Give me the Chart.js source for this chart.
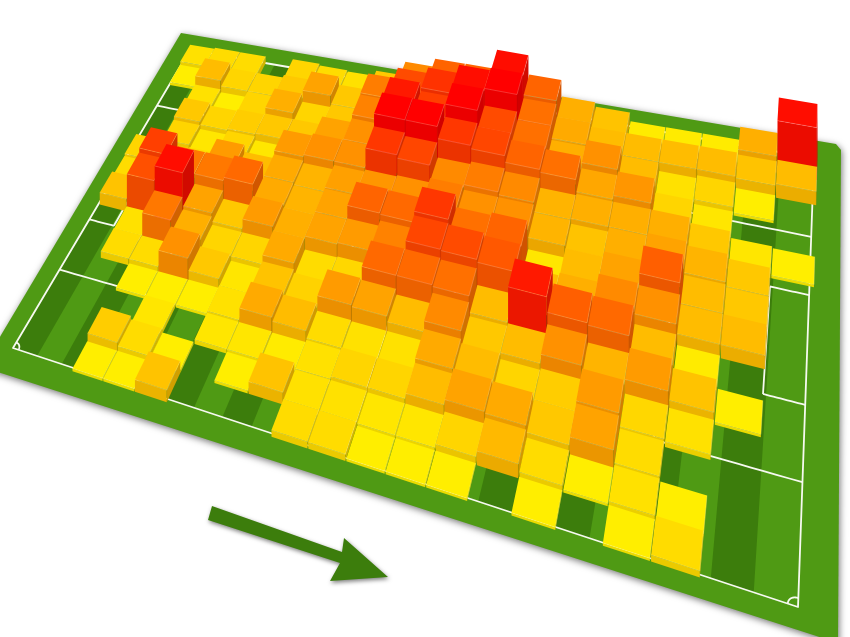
<!DOCTYPE html><html><head><meta charset="utf-8"><style>html,body{margin:0;background:#fff}canvas{display:block}</style><script src="https://cdn.jsdelivr.net/npm/chart.js@4"></script></head><body><canvas id="c" width="850" height="637"></canvas><script>
// each column lists one value per row, nearest touchline first (0 = no block)
const col00=[0,0,0,0,0,0,22,12,15,0,0,0,5,10];
const col01=[0,0,0,0,12,10,68,75,10,15,20,10,25,12];
const col02=[5,18,0,5,12,52,95,52,12,8,15,5,15,12];
const col03=[5,12,8,5,42,30,35,52,38,15,18,15,15,0];
const col04=[22,5,0,5,20,15,20,58,25,8,20,30,20,15];
const col05=[0,0,8,10,8,15,38,32,32,38,20,15,35,12];
const col06=[0,5,8,32,22,32,30,28,28,42,35,20,20,10];
const col07=[0,22,6,25,16,12,35,35,36,42,42,48,50,20];
const col08=[12,10,10,12,38,14,38,60,40,78,100,90,70,45];
const col09=[12,10,15,10,35,58,48,58,42,72,100,75,80,60];
const col10=[5,8,15,10,25,58,72,78,50,45,78,100,95,60];
const col11=[5,8,25,32,45,55,70,55,42,50,72,70,100,95];
const col12=[5,15,35,25,20,25,65,60,42,45,60,55,55,60];
const col13=[0,26,32,15,25,90,25,8,28,28,55,30,32,30];
const col14=[5,12,20,18,42,62,30,25,22,30,33,42,25,22];
const col15=[0,5,35,38,28,58,45,35,30,30,40,25,25,6];
const col16=[5,10,12,14,38,25,42,62,35,30,15,10,25,6];
const col17=[12,5,0,10,22,6,25,25,28,20,8,15,25,6];
const col18=[0,0,0,0,5,0,25,20,20,8,0,5,22,30];
const col19=[0,0,0,0,0,0,0,0,0,5,0,0,25,95];
const columns=[col00,col01,col02,col03,col04,col05,col06,col07,col08,col09,col10,col11,col12,col13,col14,col15,col16,col17,col18,col19];
const NX=20,NY=14;
const HEIGHT=0.55,INSET=0.012,GRASS='#4f9a14',DARK='#3c7d0c';
function H(P00,P10,P11,P01){const d1=[P10[0]-P11[0],P10[1]-P11[1]],d2=[P01[0]-P11[0],P01[1]-P11[1]],s=[P00[0]-P10[0]+P11[0]-P01[0],P00[1]-P10[1]+P11[1]-P01[1]];const D=d1[0]*d2[1]-d1[1]*d2[0];const g=(s[0]*d2[1]-s[1]*d2[0])/D,h=(d1[0]*s[1]-d1[1]*s[0])/D;const a=P10[0]-P00[0]+g*P10[0],b=P01[0]-P00[0]+h*P01[0],d=P10[1]-P00[1]+g*P10[1],e=P01[1]-P00[1]+h*P01[1];return (u,v)=>{const w=g*u+h*v+1;return [(a*u+b*v+P00[0])/w,(d*u+e*v+P00[1])/w];};}
const pr=H([13,348],[798,607],[814,158],[190,50]);      // pitch markings
const grid=H([13,352],[806,613],[818,156],[190,50]);    // block grid
function poly(c,pts,fill){c.beginPath();pts.forEach((p,i)=>i?c.lineTo(p[0],p[1]):c.moveTo(p[0],p[1]));c.closePath();if(fill){c.fillStyle=fill;c.fill();}}
function line(c,pts){c.beginPath();pts.forEach((p,i)=>i?c.lineTo(p[0],p[1]):c.moveTo(p[0],p[1]));c.stroke();}
function uvLine(c,a,b){const n=12,pts=[];for(let i=0;i<=n;i++)pts.push(pr(a[0]+(b[0]-a[0])*i/n,a[1]+(b[1]-a[1])*i/n));line(c,pts);}
function arc(c,cu,cv,ru,rv,t0,t1){const pts=[];for(let i=0;i<=24;i++){const t=t0+(t1-t0)*i/24;pts.push(pr(cu+ru*Math.cos(t),cv+rv*Math.sin(t)));}line(c,pts);}
const RGB=(r,g,k)=>`rgb(${Math.round(r*k)},${Math.round(g*k)},0)`;
const pitchPlugin={id:'pitch',beforeDatasetsDraw(ch){const c=ch.ctx;c.save();
 const outer=[[181,33],[836,144],[841,150],[838,643],[-18,367]];
 c.shadowColor='rgba(0,0,0,.55)';c.shadowBlur=7;c.shadowOffsetX=1;c.shadowOffsetY=2;
 poly(c,outer,GRASS);c.shadowColor='transparent';
 for(let i=0;i<24;i+=2)poly(c,[pr(i/24,0),pr((i+1)/24,0),pr((i+1)/24,1),pr(i/24,1)],DARK);
 c.strokeStyle='#f6f9f0';c.lineWidth=1.8;c.lineJoin='round';
 poly(c,[pr(0,0),pr(1,0),pr(1,1),pr(0,1)]);c.stroke();
 uvLine(c,[.5,0],[.5,1]);
 const pu=.157,su=.045,p0=.22,p1=.775,s0=.375,s1=.625;
 [[0,1],[1,-1]].forEach(([e,d])=>{
  [[pu,p0,p1],[su,s0,s1]].forEach(([w,a,b])=>{const x=e+d*w;uvLine(c,[e,a],[x,a]);uvLine(c,[x,a],[x,b]);uvLine(c,[x,b],[e,b]);});
 });
 arc(c,.5,.5,.087,.135,0,Math.PI*2);
 [[0,0,0,Math.PI/2],[1,0,Math.PI/2,Math.PI],[1,1,Math.PI,Math.PI*1.5],[0,1,Math.PI*1.5,Math.PI*2]].forEach(([u,v,a,b])=>arc(c,u,v,.0095,.0147,a,b));
 // direction of play
 c.shadowColor='rgba(0,0,0,.5)';c.shadowBlur=4;c.shadowOffsetY=2;
 poly(c,[[212,506],[342,552],[344,538],[388,577],[330,581],[340,563],[208,520]],DARK);
 c.restore();},
 afterDatasetsDraw(ch){const c=ch.ctx,X=ch.scales.x,Y=ch.scales.y,A=ch.chartArea;
 const toUV=(x,y)=>[(X.getPixelForValue(x)-A.left)/A.width,(A.bottom-Y.getPixelForValue(y))/A.height];
 const cells=[];ch.data.datasets.forEach(ds=>ds.data.forEach(d=>{if(d.value>0)cells.push(d);}));
 cells.sort((a,b)=>b.y-a.y||a.x-b.x);
 c.save();c.lineJoin='round';
 cells.forEach(d=>{const s=.5-INSET,[u0,v0]=toUV(d.x-s,d.y-s),[u1,v1]=toUV(d.x+s,d.y+s);
  const FL=grid(u0,v0),FR=grid(u1,v0),BR=grid(u1,v1),BL=grid(u0,v1),h=d.value*HEIGHT;
  const up=p=>[p[0],p[1]-h];
  const t=d.value/100,r=255,g=250*(1-t);
  poly(c,[FR,BR,up(BR),up(FR)],RGB(r,g,.82));
  poly(c,[FL,FR,up(FR),up(FL)],RGB(r,g,.92));
  poly(c,[up(FL),up(FR),up(BR),up(BL)],RGB(r,g,1));
  c.strokeStyle='rgba(255,255,255,.28)';c.lineWidth=.7;line(c,[up(FL),up(FR),up(BR)]);
  c.strokeStyle='rgba(0,0,0,.07)';line(c,[FR,up(FR)]);
 });c.restore();}};
const datasets=columns.map((values,i)=>({label:'col'+i,pointRadius:0,data:values.map((v,j)=>({x:i+.5,y:j+.5,value:v}))}));
new Chart(document.getElementById('c'),{type:'scatter',data:{datasets},options:{responsive:false,animation:false,devicePixelRatio:1,layout:{padding:0},plugins:{legend:{display:false},tooltip:{enabled:false}},scales:{x:{display:false,min:0,max:NX},y:{display:false,min:0,max:NY}}},plugins:[pitchPlugin]});
</script></body></html>
